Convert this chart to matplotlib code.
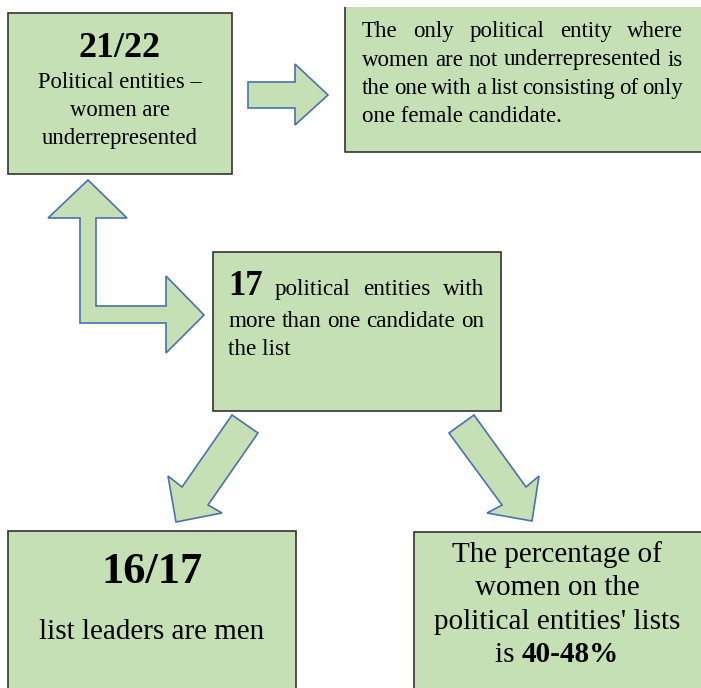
import matplotlib.pyplot as plt
from matplotlib.patches import Rectangle, Polygon

# text content of the diagram
box1_title = "21/22"
box1_lines = ["Political entities \u2013", "women are", "underrepresented"]
box2_lines = ["The only political entity where",
              "women are not underrepresented is",
              "the one with a list consisting of only",
              "one female candidate."]
box3_number = "17"
box3_lines = ["political entities with", "more than one candidate on", "the list"]
box4_title = "16/17"
box4_text = "list leaders are men"
box5_lines = ["The percentage of", "women on the", "political entities' lists"]
box5_last = ("is ", "40-48%")

# layout in pixel units (x right, y down)
boxes = {
    "b1": (8, 13, 232, 174),
    "b3": (213, 252, 501, 411),
    "b4": (8, 531, 296, 720),
    "b5": (414, 532, 720, 720),
}
box2 = (345, 7, 720, 152)

arrow_right = [(248, 82), (295, 82), (295, 64), (328, 95), (295, 125), (295, 108), (248, 108)]
arrow_bent = [(88, 180), (127, 218), (96, 218), (96, 306), (166, 306), (166, 276), (204, 315),
              (166, 353), (166, 323), (80, 323), (80, 218), (48, 218)]
arrow_dl = [(232, 415), (258, 433), (208, 505), (222, 513), (176, 522), (168, 476), (182, 487)]
arrow_dr = [(449, 433), (474, 415), (526, 487), (539, 476), (532, 521), (487, 513), (502, 505)]

green = "#C5E0B4"
edge = "#333333"
blue = "#4A72B0"
serif = "Liberation Serif"

fig = plt.figure(figsize=(7.01, 6.88), dpi=100)
ax = fig.add_axes([0, 0, 1, 1])
ax.set_xlim(0, 701)
ax.set_ylim(688, 0)
ax.axis("off")

for x0, y0, x1, y1 in boxes.values():
    ax.add_patch(Rectangle((x0, y0), x1 - x0, y1 - y0, facecolor=green, edgecolor=edge, lw=1.2))

x0, y0, x1, y1 = box2
ax.add_patch(Rectangle((x0, y0), x1 - x0, y1 - y0, facecolor=green, edgecolor="none"))
ax.plot([x0, x0, x1], [y0, y1, y1], color=edge, lw=1.2, solid_capstyle="butt")

for pts in [arrow_right, arrow_bent, arrow_dl, arrow_dr]:
    ax.add_patch(Polygon(pts, closed=True, facecolor=green, edgecolor=blue, lw=1.2))

renderer = fig.canvas.get_renderer()


def justify(items, xa, xb, y):
    # items: list of (word, fontsize, weight)
    objs = [ax.text(0, y, w, fontsize=fs, fontweight=wt, family=serif, va="baseline")
            for w, fs, wt in items]
    widths = [o.get_window_extent(renderer).width for o in objs]
    gap = (xb - xa - sum(widths)) / (len(objs) - 1)
    x = xa
    for o, w in zip(objs, widths):
        o.set_x(x)
        x += w + gap


# box 1
ax.text(120, 57, box1_title, fontsize=26, fontweight="bold", family=serif, ha="center", va="baseline")
for i, line in enumerate(box1_lines):
    ax.text(120, 88 + 28 * i, line, fontsize=16.3, family=serif, ha="center", va="baseline")

# box 2 (justified)
for i, line in enumerate(box2_lines):
    y = 37 + 28.5 * i
    if i < len(box2_lines) - 1:
        justify([(w, 16.5, "normal") for w in line.split()], 362, 683, y)
    else:
        ax.text(362, y, line, fontsize=16.5, family=serif, va="baseline")

# box 3
justify([(box3_number, 25, "bold")] + [(w, 16.7, "normal") for w in box3_lines[0].split()], 228, 484, 295)
justify([(w, 16.7, "normal") for w in box3_lines[1].split()], 228, 484, 327)
ax.text(228, 355, box3_lines[2], fontsize=16.7, family=serif, va="baseline")

# box 4
ax.text(152, 583, box4_title, fontsize=32, fontweight="bold", family=serif, ha="center", va="baseline")
ax.text(152, 639, box4_text, fontsize=21, family=serif, ha="center", va="baseline")

# box 5
for i, line in enumerate(box5_lines):
    ax.text(557, 562 + 33.3 * i, line, fontsize=21, family=serif, ha="center", va="baseline")
t1 = ax.text(0, 662, box5_last[0], fontsize=21, family=serif, va="baseline")
t2 = ax.text(0, 662, box5_last[1], fontsize=21, fontweight="bold", family=serif, va="baseline")
w1 = t1.get_window_extent(renderer).width
w2 = t2.get_window_extent(renderer).width
start = 557 - (w1 + w2) / 2
t1.set_x(start)
t2.set_x(start + w1)

fig.savefig("out.png", dpi=100)
